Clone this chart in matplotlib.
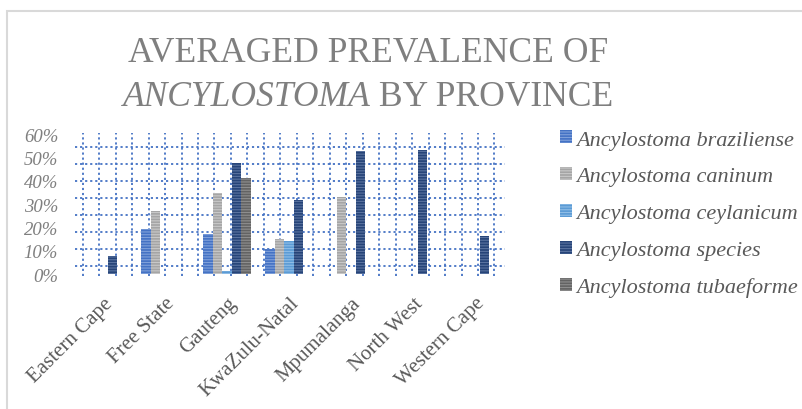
import matplotlib.pyplot as plt
import numpy as np
from matplotlib.patches import Rectangle
from matplotlib.ticker import PercentFormatter

# data
provinces = ['Eastern Cape', 'Free State', 'Gauteng', 'KwaZulu-Natal',
             'Mpumalanga', 'North West', 'Western Cape']
series = ['Ancylostoma braziliense', 'Ancylostoma caninum', 'Ancylostoma ceylanicum',
          'Ancylostoma species', 'Ancylostoma tubaeforme']
braziliense = [np.nan, 0.193, 0.171, 0.107, np.nan, np.nan, np.nan]
caninum = [np.nan, 0.271, 0.347, 0.150, 0.330, np.nan, np.nan]
ceylanicum = [np.nan, np.nan, 0.014, 0.141, np.nan, np.nan, np.nan]
species = [0.078, np.nan, 0.474, 0.317, 0.526, 0.533, 0.161]
tubaeforme = [np.nan, np.nan, 0.410, np.nan, np.nan, np.nan, np.nan]
values = [braziliense, caninum, ceylanicum, species, tubaeforme]

colors = ['#4472C4', '#A5A5A5', '#5B9BD5', '#264478', '#636363']
stripes = ['#7FA0DA', '#C8C8C8', '#8FBDE6', '#5A73A0', '#8E8E8E']

serif = ['Liberation Serif', 'DejaVu Serif']
plt.rcParams['font.family'] = serif
plt.rcParams['hatch.linewidth'] = 0.8

W, H = 803, 410
fig = plt.figure(figsize=(W / 100, H / 100), dpi=100)


def px_axes(l, t, r, b, **kw):
    return fig.add_axes([l / W, 1 - b / H, (r - l) / W, (b - t) / H], **kw)


# chart border (only top and left edges are visible)
fig.patches.append(Rectangle((7 / W, -1), 2, 2 - 12 / H, transform=fig.transFigure,
                             fill=False, edgecolor='#D9D9D9', linewidth=1.5))

# back wall grid (dotted)
wall = px_axes(75, 134, 505, 277, zorder=0)
wall.set_xlim(0, 1)
wall.set_ylim(0, 1)
wall.set_xticks(0.018 + 0.0383 * np.arange(26))
wall.set_yticks(0.071 + 0.119 * np.arange(8))
wall.grid(True, color='#4472C4', linestyle=(0, (1.2, 1.6)), linewidth=1.3)
wall.tick_params(length=0, labelbottom=False, labelleft=False)
for s in wall.spines.values():
    s.set_visible(False)
wall.set_facecolor('none')

# main axes
ax = px_axes(72, 135, 506, 275, zorder=1)
ax.set_facecolor('none')
x = np.arange(len(provinces))
bw = 0.153
for i, (name, vals) in enumerate(zip(series, values)):
    ax.bar(x + (i - 2) * bw, vals, width=bw, color=colors[i], edgecolor=stripes[i],
           hatch='------', linewidth=0, label=name)

ax.set_xlim(-0.5, len(provinces) - 0.5)
ax.set_ylim(0, 0.6)
ax.set_yticks(np.arange(0, 0.61, 0.1))
ax.yaxis.set_major_formatter(PercentFormatter(1.0, decimals=0))
for s in ax.spines.values():
    s.set_visible(False)
ax.tick_params(length=0)
ax.tick_params(axis='y', pad=10, labelsize=13.5, labelcolor='#7F7F7F')
for lab in ax.get_yticklabels():
    lab.set_fontstyle('italic')
ax.set_xticks(x)
ax.set_xticklabels(provinces, rotation=45, ha='right', va='top',
                   rotation_mode='anchor', fontsize=15, color='#595959')
ax.tick_params(axis='x', pad=14)

# legend
leg = fig.legend(loc='upper left', bbox_to_anchor=(560 / W, 1 - 131 / H),
                 frameon=False, handlelength=0.55, handleheight=0.55,
                 handletextpad=0.2, labelspacing=0.78, borderaxespad=0,
                 borderpad=0,
                 prop={'family': serif, 'style': 'italic', 'size': 16})
for t in leg.get_texts():
    t.set_color('#595959')

# title
tcol = '#7F7F7F'
tsize = 25.6
fig.text(368 / W, 1 - 54 / H, 'AVERAGED PREVALENCE OF', ha='center', va='center',
         fontsize=tsize, color=tcol)
fig.canvas.draw()
r = fig.canvas.get_renderer()
t1 = fig.text(0, 1 - 97 / H, 'ANCYLOSTOMA', ha='left', va='center',
              fontsize=tsize, color=tcol, style='italic')
t2 = fig.text(0, 1 - 97 / H, ' BY PROVINCE', ha='left', va='center',
              fontsize=tsize, color=tcol)
w1 = t1.get_window_extent(r).width
w2 = t2.get_window_extent(r).width
start = 368 - (w1 + w2) / 2
t1.set_x(start / W)
t2.set_x((start + w1) / W)

fig.savefig('out.png', dpi=100)
